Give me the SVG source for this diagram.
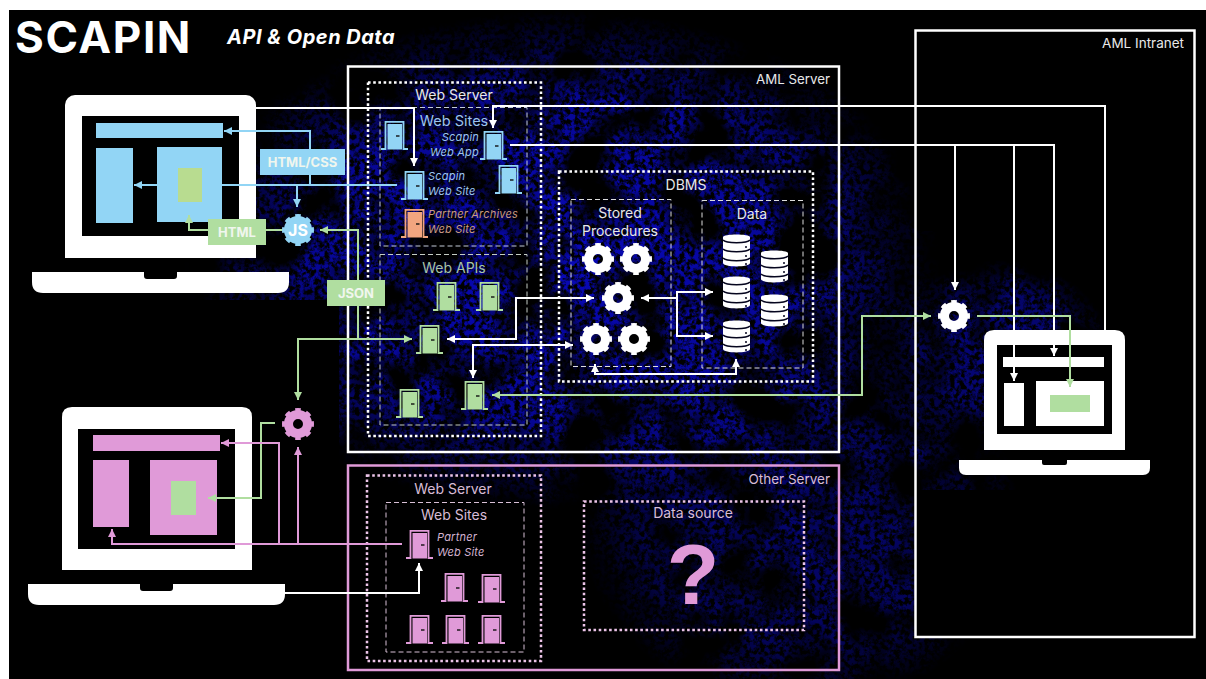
<svg xmlns="http://www.w3.org/2000/svg" width="1206" height="679" viewBox="0 0 1206 679">
<style>
text{font-family:Inter,"Liberation Sans",sans-serif;font-size:14px;fill:#e8e8e8}
.s{fill:none;stroke-width:2.5}
.w{stroke:#fff}.pk{stroke:#e09ad8}
.dot{fill:none;stroke-width:2.5;stroke-dasharray:2.6 2.6}
.dash{fill:none;stroke-width:1;stroke-dasharray:5 3}
.c{fill:none;stroke-width:2;stroke-linejoin:miter}
.cw{stroke:#fff}.cb{stroke:#92d5f5}.cg{stroke:#b0dea0}.cp{stroke:#e09ad8}
.it{font-style:italic;font-size:11px;letter-spacing:.2px}
.box{font-weight:700;font-size:13px;fill:#f0f6ee;text-anchor:middle}
.m{text-anchor:middle}.e{text-anchor:end}
.blue{color:#92d5f5}.green{color:#b0dea0}.pink{color:#e09ad8}.orange{color:#f2a57f}
</style>
<defs>
<marker id="aw" markerUnits="userSpaceOnUse" markerWidth="9" markerHeight="9" refX="8" refY="4.5" orient="auto-start-reverse"><path d="M0 .5L8 4.5L0 8.5Z" fill="#fff"/></marker>
<marker id="ab" markerUnits="userSpaceOnUse" markerWidth="9" markerHeight="9" refX="8" refY="4.5" orient="auto-start-reverse"><path d="M0 .5L8 4.5L0 8.5Z" fill="#92d5f5"/></marker>
<marker id="ag" markerUnits="userSpaceOnUse" markerWidth="9" markerHeight="9" refX="8" refY="4.5" orient="auto-start-reverse"><path d="M0 .5L8 4.5L0 8.5Z" fill="#b0dea0"/></marker>
<marker id="ap" markerUnits="userSpaceOnUse" markerWidth="9" markerHeight="9" refX="8" refY="4.5" orient="auto-start-reverse"><path d="M0 .5L8 4.5L0 8.5Z" fill="#e09ad8"/></marker>
<g id="door">
<path d="M0 28H4.500V.8H22.500V28H27" fill="none" stroke="currentColor" stroke-width="1.800"/>
<path d="M6.500 3H21V28.500H6.500Z" fill="currentColor"/>
<path d="M15 15H18.500" stroke="#111" stroke-width="1.400"/>
</g>
<g id="gear">
<circle r="9.500" fill="none" stroke="currentColor" stroke-width="9"/>
<circle r="14" fill="none" stroke="currentColor" stroke-width="4" pathLength="80" stroke-dasharray="5 5" stroke-dashoffset="2.500"/>
</g>
<g id="db">
<path d="M0 5C0 1.500 27 1.500 27 5V31C27 35.500 0 35.500 0 31Z" fill="#fff"/>
<path d="M0 8C3 11.500 24 11.500 27 8M0 17C3 20.500 24 20.500 27 17M0 26C3 29.500 24 29.500 27 26" fill="none" stroke="#05051e" stroke-width="1.500"/>
<circle cx="23" cy="15" r="1" fill="#05051e"/><circle cx="23" cy="24" r="1" fill="#05051e"/><circle cx="23" cy="32" r="1" fill="#05051e"/>
</g>
<filter id="noise" x="0" y="0" width="100%" height="100%" color-interpolation-filters="sRGB">
<feTurbulence type="fractalNoise" baseFrequency="0.2" numOctaves="3" seed="7" result="hi"/>
<feColorMatrix in="hi" type="matrix" values="0 0 0 0 0.03  0 0 0 0 0.03  0 0 0 0 0.72  3 3 0 0 -2.450" result="spk"/>
<feTurbulence type="fractalNoise" baseFrequency="0.018" numOctaves="3" seed="21" result="lo"/>
<feColorMatrix in="lo" type="matrix" values="0 0 0 0 0  0 0 0 0 0  0 0 0 0 0  4 0 0 0 -1.300" result="patch"/>
<feComposite in="spk" in2="patch" operator="in"/>
<feGaussianBlur stdDeviation=".6"/>
</filter>
<radialGradient id="hz"><stop offset="0" stop-color="#fff"/><stop offset=".65" stop-color="#fff" stop-opacity=".8"/><stop offset="1" stop-color="#fff" stop-opacity="0"/></radialGradient>
<mask id="hm" maskUnits="userSpaceOnUse" x="0" y="0" width="1206" height="679">
<ellipse cx="560" cy="260" rx="380" ry="250" fill="url(#hz)"/>
<ellipse cx="800" cy="520" rx="220" ry="190" fill="url(#hz)" opacity=".6"/>
<ellipse cx="1000" cy="350" rx="110" ry="90" fill="url(#hz)" opacity=".7"/>
<rect x="916" y="490" width="278" height="146" fill="#000"/>
<rect x="916" y="31" width="278" height="200" fill="#000"/>
<rect x="9" y="300" width="330" height="379" fill="#000"/>
</mask>
</defs>
<rect width="1206" height="679" fill="#fff"/>
<rect x="9" y="10" width="1197" height="669" fill="#000"/>
<g mask="url(#hm)"><rect x="9" y="10" width="1197" height="669" filter="url(#noise)"/></g>

<text x="15" y="53" style="font-size:44px;font-weight:700;letter-spacing:1.600px;fill:#fff">SCAPIN</text>
<text x="227" y="44" style="font-size:20px;font-weight:700;font-style:italic;letter-spacing:.5px;fill:#fff">API &amp; Open Data</text>

<g id="aml-intranet"><rect x="915.500" y="30.500" width="279" height="606.500" class="s w"/><text x="1184" y="48" class="e" style="font-size:13.500px">AML Intranet</text></g>
<g id="aml-server"><rect x="348" y="66.500" width="491" height="385.500" class="s w"/><text x="830" y="84" class="e" style="font-size:13.300px">AML Server</text></g>
<g id="web-server"><rect x="368" y="82.500" width="173" height="353.500" class="dot w"/><text x="454" y="100" class="m">Web Server</text></g>
<g id="web-sites"><rect x="380" y="107.500" width="147" height="138.500" class="dash" stroke="#c4ccd8"/><text x="454" y="126" class="m" style="fill:#9cc4ee;font-size:14.500px">Web Sites</text></g>
<g id="web-apis"><rect x="380" y="254.500" width="147" height="170.500" class="dash" stroke="#c4ccc4"/><text x="454" y="273" class="m" style="fill:#a9c4a6">Web APIs</text></g>
<g id="dbms"><rect x="559" y="171.500" width="254" height="210" class="dot w"/><text x="686" y="190" class="m">DBMS</text></g>
<g id="stored-procedures"><rect x="571" y="199.500" width="100" height="167" class="dash" stroke="#ddd"/><text x="620" y="218" class="m">Stored</text><text x="620" y="236" class="m">Procedures</text></g>
<g id="data"><rect x="702" y="200.500" width="101" height="167.500" class="dash" stroke="#ddd"/><text x="752" y="219" class="m">Data</text></g>
<g id="other-server"><rect x="348" y="465.500" width="491" height="204.500" class="s pk"/><text x="830" y="484" class="e" style="font-size:13.500px;fill:#d8bcd6">Other Server</text></g>
<g id="other-web-server"><rect x="367" y="475.500" width="174" height="185.500" class="dot" stroke="#ecc4e8"/><text x="453" y="494" class="m" style="fill:#d8bcd6">Web Server</text></g>
<g id="other-web-sites"><rect x="386" y="502.500" width="138" height="149.500" class="dash" stroke="#d8c0d6"/><text x="454" y="520" class="m" style="fill:#d8bcd6">Web Sites</text></g>
<g id="data-source"><rect x="584" y="501.500" width="220" height="128.500" class="dot" stroke="#ecc4e8"/><text x="693" y="518" class="m" style="fill:#d8bcd6">Data source</text><text x="693" y="604" class="m" style="font-family:'Liberation Sans',sans-serif;font-size:86px;font-weight:700;fill:#e09ad8">?</text></g>

<g id="laptop-1">
<rect x="65" y="95" width="191" height="163" rx="10" fill="#fff"/><path d="M65 240h191v18h-191z" fill="#fff"/>
<rect x="82" y="116" width="157" height="120" fill="#000"/>
<path d="M32 272H144V276Q144 279 147 279H174Q177 279 177 276V272H289V282Q289 293 278 293H43Q32 293 32 282Z" fill="#fff"/>
<rect x="96" y="123" width="127" height="15" fill="#92d5f5"/>
<rect x="96" y="148" width="37" height="75" fill="#92d5f5"/>
<rect x="157" y="147" width="65" height="75" fill="#92d5f5"/>
</g>
<g id="laptop-2">
<path d="M984 450V340Q984 330 994 330H1115Q1125 330 1125 340V450Z" fill="#fff"/>
<rect x="997" y="345" width="115" height="89" fill="#000"/>
<path d="M959 460H1042V463Q1042 465 1044 465H1065Q1067 465 1067 463V460H1150V468Q1150 475 1143 475H966Q959 475 959 468Z" fill="#fff"/>
<rect x="1003" y="357" width="101" height="10" fill="#fff"/>
<rect x="1004" y="383" width="20" height="43" fill="#fff"/>
<rect x="1036" y="381" width="68" height="45" fill="#fff"/>
<rect x="1050" y="395" width="40" height="17" fill="#b0dea0"/>
</g>
<g id="laptop-3">
<path d="M62 570V417Q62 407 72 407H242Q252 407 252 417V570Z" fill="#fff"/>
<rect x="78" y="429" width="157" height="120" fill="#000"/>
<path d="M28 584H140V588Q140 591 143 591H170Q173 591 173 588V584H285V594Q285 605 274 605H39Q28 605 28 594Z" fill="#fff"/>
<rect x="93" y="435" width="127" height="16" fill="#e09ad8"/>
<rect x="93" y="460" width="36" height="67" fill="#e09ad8"/>
<rect x="150" y="460" width="67" height="75" fill="#e09ad8"/>
<rect x="171" y="481" width="25" height="34" fill="#b0dea0"/>
</g>

<g id="connectors">
<path class="c cw" d="M256 108H414V166" marker-end="url(#aw)"/>
<path class="c cw" d="M1105 330V106H493V128" marker-end="url(#aw)"/>
<path class="c cw" d="M510 145H1054V356" marker-end="url(#aw)"/>
<path class="c cw" d="M1014 145V381" marker-end="url(#aw)"/>
<path class="c cw" d="M955 145V290" marker-end="url(#aw)"/>
<path class="c cw" d="M447 339H516V298H594" marker-start="url(#aw)" marker-end="url(#aw)"/>
<path class="c cw" d="M473 378V345H573" marker-start="url(#aw)" marker-end="url(#aw)"/>
<path class="c cw" d="M641 298H677V292H713" marker-start="url(#aw)" marker-end="url(#aw)"/>
<path class="c cw" d="M677 298V336H713" marker-end="url(#aw)"/>
<path class="c cw" d="M595 364V374H736V359" marker-start="url(#aw)" marker-end="url(#aw)"/>
<path class="c cw" d="M285 593H419V563" marker-end="url(#aw)"/>
<path class="c cb" d="M397 185H134" marker-end="url(#ab)"/>
<path class="c cb" d="M310 185V131H224" marker-end="url(#ab)"/>
<path class="c cb" d="M297 185V207" marker-end="url(#ab)"/>
<path class="c cg" d="M358 339V230H320" marker-end="url(#ag)"/>
<path class="c cg" d="M283 230H189V215" marker-end="url(#ag)"/>
<path class="c cg" d="M412 339H298V400" marker-start="url(#ag)" marker-end="url(#ag)"/>
<path class="c cg" d="M492 395H862V316H931" marker-start="url(#ag)" marker-end="url(#ag)"/>
<path class="c cg" d="M977 316H1070V387" marker-end="url(#ag)"/>
<path class="c cg" d="M275 423H261V498H208" marker-end="url(#ag)"/>
<path class="c cp" d="M402 544H112V529" marker-end="url(#ap)"/>
<path class="c cp" d="M279 544V443H221" marker-end="url(#ap)"/>
<path class="c cp" d="M298 544V447" marker-end="url(#ap)"/>
</g>
<rect id="laptop-1-panel" x="178" y="168" width="24" height="34" fill="#b8dc90"/>

<g id="label-html-css"><rect x="260" y="149" width="85" height="26" fill="#92d5f5"/><text x="302.500" y="166.500" class="box">HTML/CSS</text></g>
<g id="label-html"><rect x="208" y="219" width="58" height="26" fill="#b0dea0"/><text x="237" y="237" class="box">HTML</text></g>
<g id="label-json"><rect x="327" y="280" width="58" height="26" fill="#b0dea0"/><text x="356" y="298" class="box">JSON</text></g>

<g id="doors-blue" class="blue">
<use href="#door" x="381" y="121"/><use href="#door" x="480" y="131"/><use href="#door" x="495" y="165"/><use href="#door" x="401" y="171"/>
</g>
<g id="door-orange" class="orange"><use href="#door" x="401" y="209"/></g>
<g id="doors-green" class="green">
<use href="#door" x="433" y="282"/><use href="#door" x="476" y="282"/><use href="#door" x="416" y="325"/><use href="#door" x="461" y="381"/><use href="#door" x="396" y="389"/>
</g>
<g id="doors-pink" class="pink">
<use href="#door" x="406" y="530"/><use href="#door" x="441" y="573"/><use href="#door" x="478" y="574"/><use href="#door" x="406" y="615"/><use href="#door" x="442" y="615"/><use href="#door" x="478" y="615"/>
</g>
<g id="door-labels">
<text x="479" y="141" class="it e" style="fill:#9cc4ee">Scapin</text><text x="479" y="156" class="it e" style="fill:#9cc4ee">Web App</text>
<text x="428" y="180" class="it" style="fill:#9cc4ee">Scapin</text><text x="428" y="195" class="it" style="fill:#9cc4ee">Web Site</text>
<text x="428" y="218" class="it" style="fill:#c89a80">Partner Archives</text><text x="428" y="233" class="it" style="fill:#c89a80">Web Site</text>
<text x="437" y="541" class="it" style="fill:#d3b3d0">Partner</text><text x="437" y="556" class="it" style="fill:#d3b3d0">Web Site</text>
</g>

<g id="gears" style="color:#fff">
<use href="#gear" x="598" y="259"/><use href="#gear" x="636" y="259"/><use href="#gear" x="618" y="298"/><use href="#gear" x="596" y="339"/><use href="#gear" x="634" y="339"/><use href="#gear" x="954" y="316"/>
</g>
<g id="gear-pink" class="pink"><use href="#gear" x="298" y="424"/></g>
<g id="gear-js" class="blue"><use href="#gear" x="298" y="230"/><circle cx="298" cy="230" r="10" fill="#92d5f5"/><text x="298" y="236" class="m" style="font-weight:700;font-size:16px;fill:#fff">JS</text></g>

<g id="databases">
<use href="#db" x="723" y="232"/><use href="#db" x="723" y="274"/><use href="#db" x="723" y="318"/><use href="#db" x="761" y="248"/><use href="#db" x="761" y="292"/>
</g>
</svg>
